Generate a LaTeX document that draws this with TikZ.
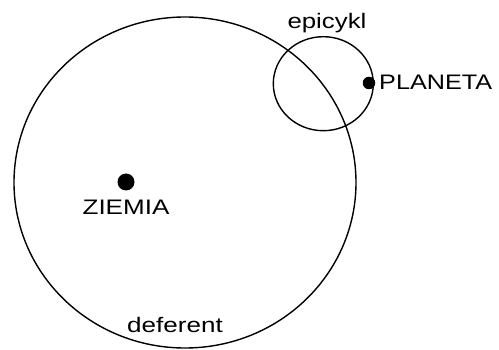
\documentclass[tikz,border=0pt]{standalone}
\usepackage{fontspec}
\setmainfont{Liberation Sans}
\usepackage{graphicx}
\begin{document}
\begin{tikzpicture}[x=1pt,y=-1pt,
  orbit/.style={draw=black,line width=1.4pt},
  body/.style={fill=black},
  lbl/.style={inner sep=0pt,font=\fontsize{21}{25}\selectfont}]
\useasboundingbox (0,0) rectangle (499,350);
% deferent
\coordinate (defc) at (185,182.5);
\draw[orbit] (defc) ellipse [x radius=171, y radius=165.5];
% epicycle
\coordinate (epic) at (323.3,83.7);
\draw[orbit] (epic) ellipse [x radius=50, y radius=47];
% bodies
\node[body,circle,inner sep=0pt,minimum size=17pt] (ziemia) at (126,182) {};
\node[body,circle,inner sep=0pt,minimum size=12.5pt] (planeta) at (369,83) {};
% labels
\node[lbl,anchor=base] (tepi) at (327,29) {\scalebox{1.23}[1]{epicykl}};
\node[lbl,anchor=base west] (tpla) at (379,90) {\scalebox{1.2}[1]{PLANETA}};
\node[lbl,anchor=base] (tzie) at (126,215) {\scalebox{1.24}[1]{ZIEMIA}};
\node[lbl,anchor=base] (tdef) at (175,333) {\scalebox{1.24}[1]{deferent}};
\end{tikzpicture}
\end{document}
